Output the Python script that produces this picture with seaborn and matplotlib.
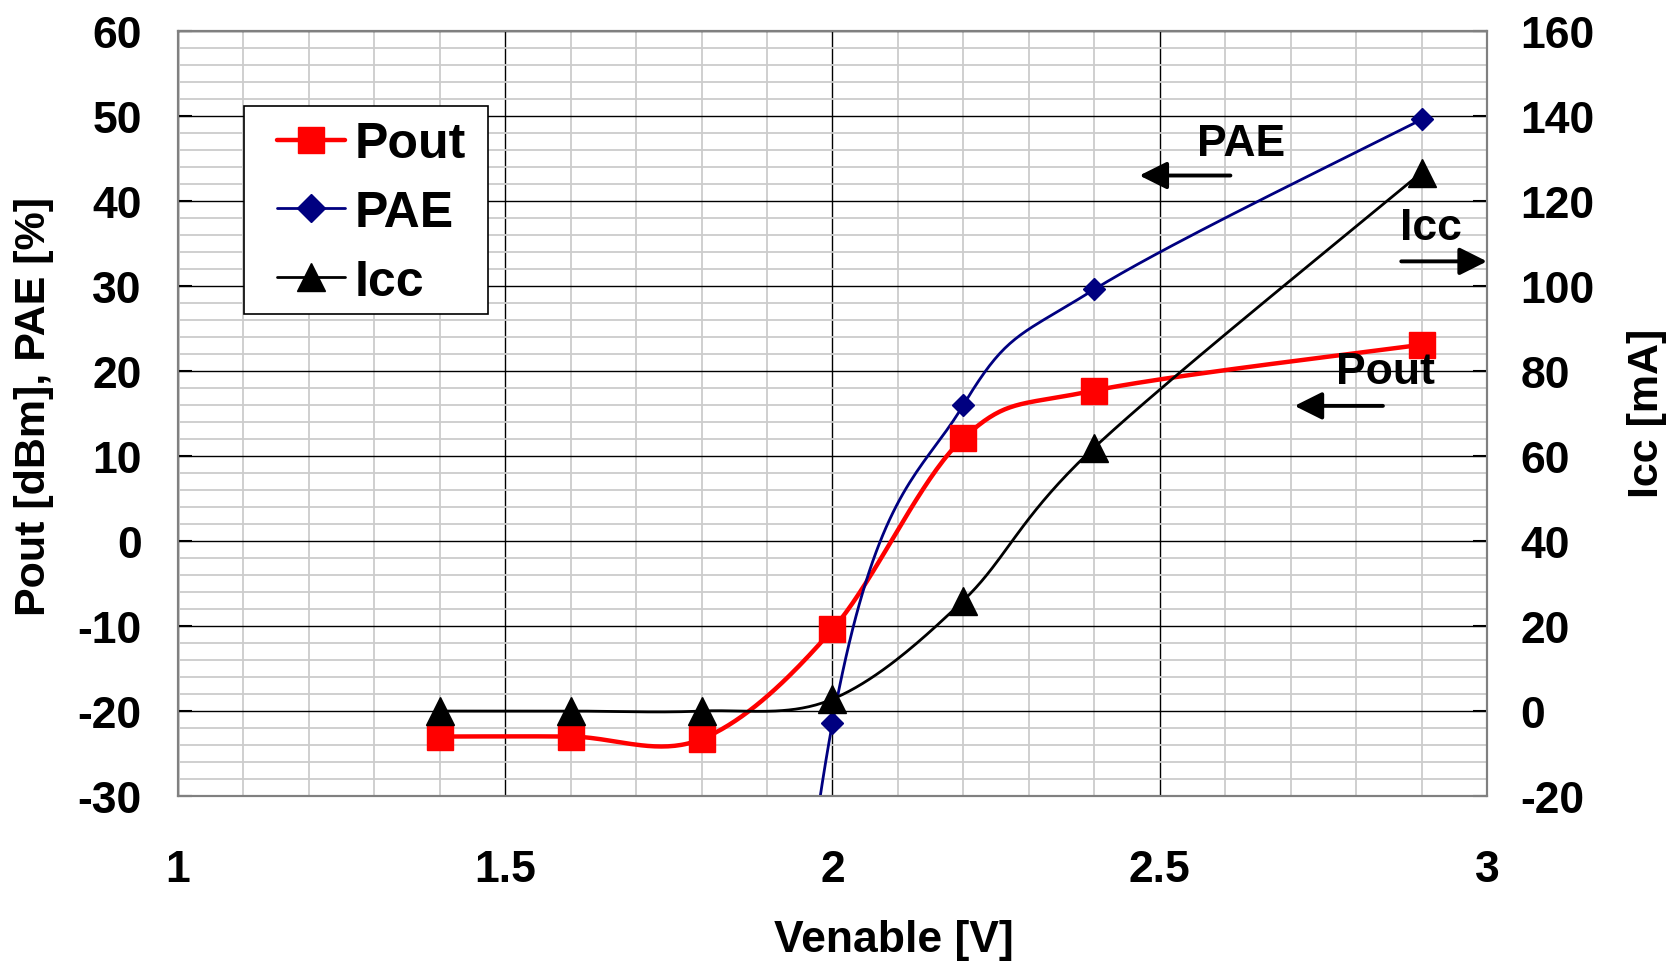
import matplotlib
matplotlib.use("Agg")
import matplotlib.pyplot as plt
from matplotlib.lines import Line2D
from matplotlib.patches import Rectangle
from matplotlib.ticker import MultipleLocator
import seaborn as sns
import pandas as pd
import numpy as np

# Measured points (Venable in V)
venable = [1.4, 1.6, 1.8, 2.0, 2.2, 2.4, 2.9]
pout = [-23.0, -23.0, -23.3, -10.4, 12.1, 17.7, 23.1]            # dBm
pae = [-300.0, -250.0, -150.0, -21.4, 16.0, 29.6, 49.6]          # %, first three are off-scale
icc = [0.0, 0.0, 0.0, 2.8, 26.0, 62.0, 126.7]                   # mA

x_ticks = [1, 1.5, 2, 2.5, 3]
x_tick_labels = ["1", "1.5", "2", "2.5", "3"]


def smooth(xs, ys, n=40):
    # Excel-like smoothed line (Catmull-Rom bezier through the points)
    p = np.column_stack([xs, ys]).astype(float)
    out = []
    for i in range(len(p) - 1):
        p0 = p[i - 1] if i > 0 else p[i]
        p1, p2 = p[i], p[i + 1]
        p3 = p[i + 2] if i + 2 < len(p) else p[i + 1]
        b1 = p1 + (p2 - p0) / 6
        b2 = p2 - (p3 - p1) / 6
        t = np.linspace(0, 1, n)[:, None]
        seg = ((1 - t) ** 3) * p1 + 3 * ((1 - t) ** 2) * t * b1 + 3 * (1 - t) * t ** 2 * b2 + t ** 3 * p2
        out.append(seg if i == 0 else seg[1:])
    s = np.vstack(out)
    return pd.DataFrame({"x": s[:, 0], "y": s[:, 1]})


sns.set_theme(style="white")
plt.rcParams["font.family"] = ["Liberation Sans", "DejaVu Sans"]
plt.rcParams["font.weight"] = "bold"
plt.rcParams["axes.unicode_minus"] = False
plt.rcParams["text.color"] = "black"
plt.rcParams["xtick.color"] = "black"
plt.rcParams["ytick.color"] = "black"

fig = plt.figure(figsize=(16.77, 9.70), dpi=100)
ax = fig.add_axes([0.1061, 0.1783, 0.7806, 0.7887])
ax2 = ax.twinx()

red, navy = "#FF0000", "#000080"

df_pout = smooth(venable, pout)
df_pae = smooth(venable, pae)
df_icc = smooth(venable, icc)

sns.lineplot(data=df_pout, x="x", y="y", ax=ax, color=red, lw=3.2, sort=False, estimator=None, zorder=4)
sns.lineplot(data=df_pae, x="x", y="y", ax=ax, color=navy, lw=2.0, sort=False, estimator=None, zorder=5)
ax.plot(venable, pae, ls="none", marker="D", ms=11, color=navy, zorder=6)
ax.plot(venable, pout, ls="none", marker="s", ms=19, color=red, zorder=6)

sns.lineplot(data=df_icc, x="x", y="y", ax=ax2, color="black", lw=2.0, sort=False, estimator=None, zorder=4)
ax2.plot(venable, icc, ls="none", marker="^", ms=20, color="black", zorder=6)

ax.set_xlim(1, 3)
ax.set_ylim(-30, 60)
ax2.set_ylim(-20, 160)
ax.set_xlabel("")
ax.set_ylabel("")
ax2.set_ylabel("")

ax.set_xticks(x_ticks)
ax.set_xticklabels(x_tick_labels)
ax.yaxis.set_major_locator(MultipleLocator(10))
ax.xaxis.set_minor_locator(MultipleLocator(0.1))
ax.yaxis.set_minor_locator(MultipleLocator(2))
ax2.yaxis.set_major_locator(MultipleLocator(20))

ax.grid(which="minor", color="#cccccc", lw=1.3)
ax.grid(which="major", color="black", lw=1.0)
ax.set_axisbelow(True)

ax.tick_params(axis="x", which="major", labelsize=32, pad=38, length=0)
ax.tick_params(axis="y", which="major", labelsize=32, pad=26, length=10, direction="in", color="black", width=1.5)
ax2.tick_params(axis="y", which="major", labelsize=32, pad=24, length=10, direction="in", color="black", width=1.5)
ax.tick_params(which="minor", length=0)
for t in ax.get_xticklabels() + ax.get_yticklabels() + ax2.get_yticklabels():
    t.set_fontweight("bold")

for a in (ax, ax2):
    for s in a.spines.values():
        s.set_color("#808080")
        s.set_linewidth(1.5)

fig.text(0.533, 0.030, "Venable [V]", fontsize=32, fontweight="bold", ha="center", va="center")
fig.text(0.0204, 0.581, "Pout [dBm], PAE [%]", fontsize=31, fontweight="bold", rotation=90, ha="center", va="center")
fig.text(0.982, 0.574, "Icc [mA]", fontsize=31, fontweight="bold", rotation=90, ha="center", va="center")

# annotations with arrows
arrow = dict(arrowstyle="-|>", lw=2.8, color="black", mutation_scale=42, shrinkA=0, shrinkB=0)
ax.text(2.624, 46.8, "PAE", fontsize=32, fontweight="bold", ha="center", va="center")
ax.annotate("", xy=(2.469, 43.0), xytext=(2.608, 43.0), arrowprops=arrow)
ax.text(2.915, 36.9, "Icc", fontsize=32, fontweight="bold", ha="center", va="center", zorder=7)
ax.annotate("", xy=(3.0, 32.9), xytext=(2.869, 32.9), arrowprops=arrow, annotation_clip=False)
ax.text(2.845, 20.0, "Pout", fontsize=32, fontweight="bold", ha="center", va="center", zorder=7)
ax.annotate("", xy=(2.706, 15.9), xytext=(2.841, 15.9), arrowprops=arrow)

# legend: frame drawn separately, entries placed inside it
frame = Rectangle((244 / 1677, 1 - 315 / 970), (488 - 244) / 1677, (315 - 107) / 970,
                  transform=fig.transFigure, facecolor="white", edgecolor="black", lw=1.2, zorder=10)
ax2.add_artist(frame)
frame.set_clip_on(False)

handles = [
    Line2D([], [], color=red, lw=3.2, marker="s", ms=19),
    Line2D([], [], color=navy, lw=2.0, marker="D", ms=14),
    Line2D([], [], color="black", lw=2.0, marker="^", ms=20),
]
leg = ax2.legend(handles, ["Pout", "PAE", "Icc"], loc="upper left",
                 bbox_to_anchor=(277 / 1677, 1 - 122 / 970), bbox_transform=fig.transFigure,
                 borderaxespad=0, fontsize=36, frameon=False,
                 handlelength=1.35, handletextpad=0.2, labelspacing=0.456, borderpad=0)
leg.set_zorder(11)
for t in leg.get_texts():
    t.set_fontweight("bold")

fig.savefig("out.png", dpi=100)
